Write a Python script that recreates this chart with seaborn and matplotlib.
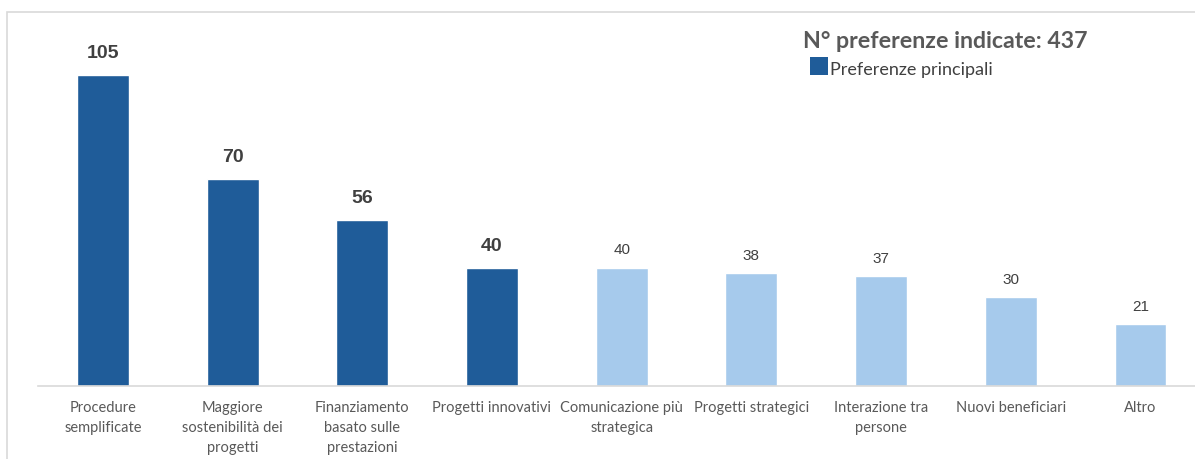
import matplotlib
matplotlib.use("Agg")
import matplotlib.pyplot as plt
from matplotlib.patches import Rectangle
import seaborn as sns
import pandas as pd

categories = [
    "Procedure\nsemplificate",
    "Maggiore\nsostenibilità dei\nprogetti",
    "Finanziamento\nbasato sulle\nprestazioni",
    "Progetti innovativi",
    "Comunicazione più\nstrategica",
    "Progetti strategici",
    "Interazione tra\npersone",
    "Nuovi beneficiari",
    "Altro",
]
values = [105, 70, 56, 40, 40, 38, 37, 30, 21]
groups = ["principale"] * 4 + ["altra"] * 5
title_text = "N° preferenze indicate: 437"
legend_label = "Preferenze principali"

DARK = "#1F5C99"
LIGHT = "#A6CAEC"

sns.set_theme(style="white")
plt.rcParams["font.family"] = ["Lato", "DejaVu Sans"]

df = pd.DataFrame({"categoria": categories, "valore": values, "gruppo": groups})

W, H = 1195, 460
fig = plt.figure(figsize=(W / 100, H / 100), dpi=100)
fig.patch.set_facecolor("white")

# chart frame
fig.patches.append(Rectangle((7 / W, -0.1), 1.2, 1 - 13 / H + 0.1,
                             transform=fig.transFigure, fill=False,
                             edgecolor="#D9D9D9", linewidth=1.2))

base_px = 387
ax_left, ax_bottom = 38 / W, (H - base_px) / H
ax = fig.add_axes([ax_left, ax_bottom, 1 - ax_left, (base_px - 13) / H])

sns.barplot(data=df, x="categoria", y="valore", hue="gruppo",
            palette={"principale": DARK, "altra": LIGHT},
            dodge=False, width=0.4, legend=False, ax=ax, saturation=1)

ax.set_xlim(-0.5, 8.42)
ax.set_ylim(0, 126.3)
ax.set_xlabel("")
ax.set_ylabel("")
ax.set_yticks([])
for s in ["left", "right", "top"]:
    ax.spines[s].set_visible(False)
ax.spines["bottom"].set_color("#D9D9D9")
ax.spines["bottom"].set_linewidth(1.2)
ax.tick_params(axis="x", length=0, pad=10, labelsize=10.5, labelcolor="#595959")
for lbl in ax.get_xticklabels():
    lbl.set_linespacing(1.55)
    lbl.set_verticalalignment("top")

for i, (v, g) in enumerate(zip(values, groups)):
    if g == "principale":
        ax.annotate(f"{v}", (i, v), xytext=(0, 10), textcoords="offset points",
                    ha="center", va="bottom", fontsize=14, fontweight="bold",
                    color="#404040", family=["Liberation Sans", "DejaVu Sans"])
    else:
        ax.annotate(f"{v}", (i, v), xytext=(0, 8), textcoords="offset points",
                    ha="center", va="bottom", fontsize=11,
                    color="#404040", family=["Liberation Sans", "DejaVu Sans"])

fig.text(945 / W, 1 - 41 / H, title_text, ha="center", va="center",
         fontsize=16.7, fontweight="bold", color="#595959")
fig.patches.append(Rectangle((810 / W, 1 - 76 / H), 18 / W, 18 / H,
                             transform=fig.transFigure, facecolor=DARK,
                             edgecolor="none"))
fig.text(830 / W, 1 - 70 / H, legend_label, ha="left", va="center",
         fontsize=13, color="#404040")

fig.savefig("out.png", dpi=100)
